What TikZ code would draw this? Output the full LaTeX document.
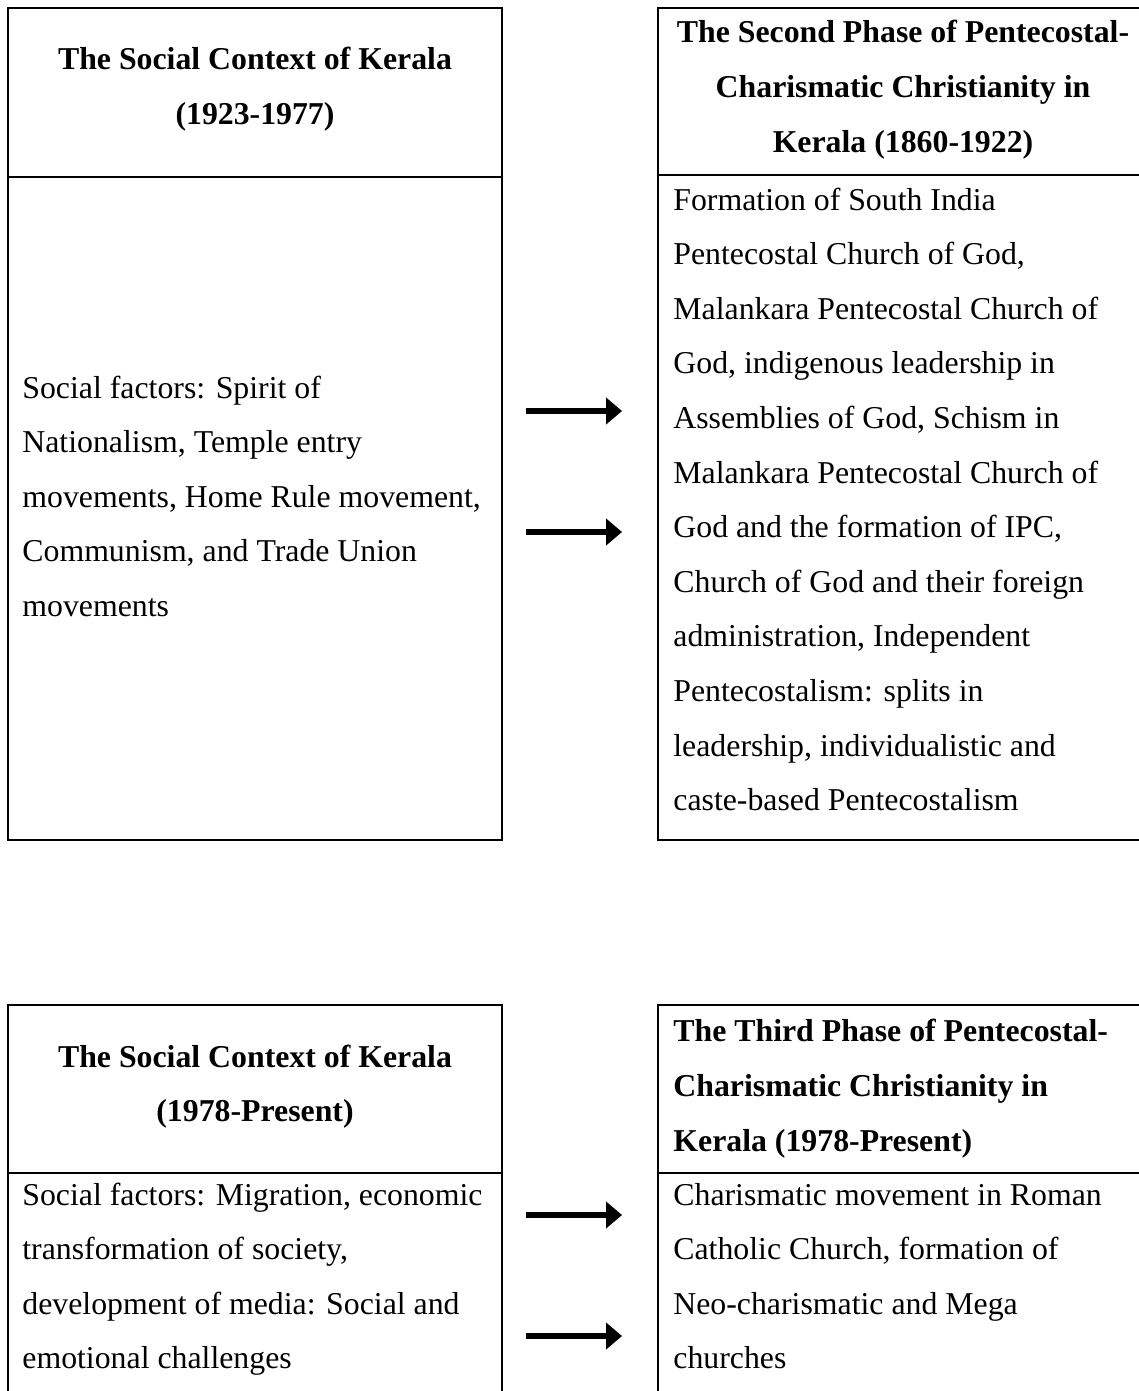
\documentclass[tikz,border=0pt]{standalone}
\usepackage{fontspec}
\setmainfont{Liberation Serif}
\usetikzlibrary{arrows.meta}
\begin{document}
\begin{tikzpicture}[x=0.5pt,y=-0.5pt,
  frame/.style={draw, line width=1pt, inner sep=0pt, outer sep=0pt, anchor=north west, minimum width=247pt},
  hd/.style={font=\bfseries\fontsize{15.9}{27.3}\selectfont, inner sep=0pt},
  bd/.style={font=\fontsize{15.9}{27.3}\selectfont, inner sep=0pt, align=left, anchor=base west},
  shadowarrow/.style={line width=3pt, draw=black!22, -{Triangle[length=8pt,width=13pt]}, shift={(2,4)}},
  mainarrow/.style={line width=3pt, draw=black, -{Triangle[length=8pt,width=13pt]}}
]
\useasboundingbox (0,0) rectangle (1139,1391);
\fill[white] (0,0) rectangle (1139,1391);

% frames
\node[frame, minimum height=84.5pt] (h1) at (8,8) {};
\node[frame, minimum height=331.5pt] (b1) at (8,177) {};
\node[frame, minimum height=83.5pt] (h2) at (658,8) {};
\node[frame, minimum height=332.5pt] (b2) at (658,175) {};
\node[frame, minimum height=84pt] (h3) at (8,1005) {};
\node[frame, minimum height=170pt] (b3) at (8,1173) {};
\node[frame, minimum height=84pt] (h4) at (658,1005) {};
\node[frame, minimum height=170pt] (b4) at (658,1173) {};

% headers (anchor = baseline of last line)
\node[hd, align=center, anchor=base] (t1) at (255,124.6) {The Social Context of Kerala\\(1923-1977)};
\node[hd, align=center, anchor=base] (t2) at (903,152.2) {The Second Phase of Pentecostal-\\Charismatic Christianity in\\Kerala (1860-1922)};
\node[hd, align=center, anchor=base] (t3) at (255,1121.6) {The Social Context of Kerala\\(1978-Present)};
\node[hd, align=left, anchor=base west] (t4) at (673,1151) {The Third Phase of Pentecostal-\\Charismatic Christianity in\\Kerala (1978-Present)};

% bodies
\node[bd] (x1) at (22,616.4) {Social factors: Spirit of\\Nationalism, Temple entry\\movements, Home Rule movement,\\Communism, and Trade Union\\movements};
\node[bd] (x2) at (673,810.6) {Formation of South India\\Pentecostal Church of God,\\Malankara Pentecostal Church of\\God, indigenous leadership in\\Assemblies of God, Schism in\\Malankara Pentecostal Church of\\God and the formation of IPC,\\Church of God and their foreign\\administration, Independent\\Pentecostalism: splits in\\leadership, individualistic and\\caste-based Pentecostalism};
\node[bd] (x3) at (22,1368.8) {Social factors: Migration, economic\\transformation of society,\\development of media: Social and\\emotional challenges};
\node[bd] (x4) at (673,1368.8) {Charismatic movement in Roman\\Catholic Church, formation of\\Neo-charismatic and Mega\\churches};

% arrows
\coordinate (a1s) at (526,411); \coordinate (a1e) at (622,411);
\coordinate (a2s) at (526,532); \coordinate (a2e) at (622,532);
\coordinate (a3s) at (526,1215); \coordinate (a3e) at (622,1215);
\coordinate (a4s) at (526,1336); \coordinate (a4e) at (622,1336);
\foreach \s/\e in {a1s/a1e,a2s/a2e,a3s/a3e,a4s/a4e}{
  \draw[shadowarrow] (\s) -- (\e);
  \draw[mainarrow] (\s) -- (\e);
}
\end{tikzpicture}
\end{document}
